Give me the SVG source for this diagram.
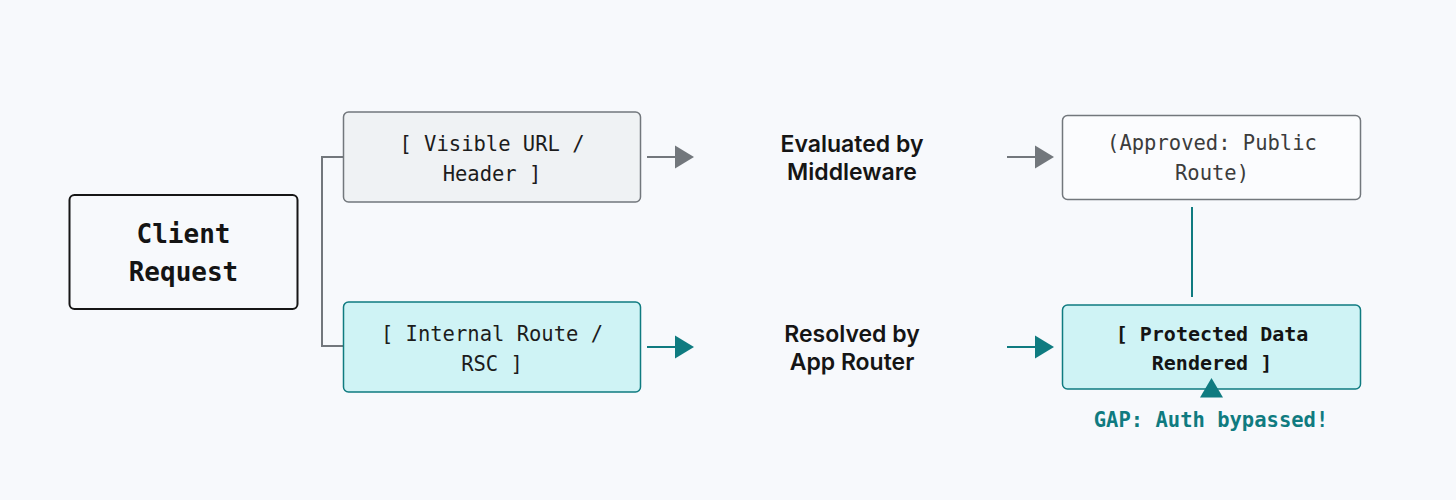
<svg xmlns="http://www.w3.org/2000/svg" width="1456" height="500" viewBox="0 0 1456 500">
  <defs>
    <style>
      .mono { font-family: "DejaVu Sans Mono", "Liberation Mono", monospace; text-anchor: middle; }
      .reg { font-size: 20.5px; font-weight: 400; fill: #1c1c1c; }
      .bold { font-size: 20px; font-weight: 700; fill: #141414; }
      .big { font-size: 26px; font-weight: 700; fill: #141414; }
      .sans { font-family: Inter, "Liberation Sans", sans-serif; font-size: 23px; font-weight: 600; fill: #151515; text-anchor: middle; }
      .gap { font-size: 20.5px; font-weight: 700; fill: #0f7b80; }
      .gray-line { stroke: #72777c; stroke-width: 2; fill: none; }
      .teal-line { stroke: #0f7b80; stroke-width: 2; fill: none; }
      .gray-head { fill: #72777c; }
      .teal-head { fill: #0f7b80; }
    </style>
  </defs>
  <rect x="0" y="0" width="1456" height="500" fill="#f7f9fc"/>

  <g id="connectors">
    <path class="gray-line" d="M343 157 H322 V346 H343"/>
    <line class="gray-line" x1="647" y1="157" x2="676" y2="157"/>
    <polygon class="gray-head" points="675,145.5 694,157 675,168.5"/>
    <line class="gray-line" x1="1007" y1="157" x2="1036" y2="157"/>
    <polygon class="gray-head" points="1035,145.5 1054,157 1035,168.5"/>
    <line class="teal-line" x1="647" y1="347" x2="676" y2="347"/>
    <polygon class="teal-head" points="675,335.5 694,347 675,358.5"/>
    <line class="teal-line" x1="1007" y1="347" x2="1036" y2="347"/>
    <polygon class="teal-head" points="1035,335.5 1054,347 1035,358.5"/>
    <line class="teal-line" x1="1192" y1="207" x2="1192" y2="297"/>
  </g>

  <g id="client-request">
    <rect x="69.5" y="195" width="228" height="114" rx="5" fill="#f7f9fc" stroke="#161616" stroke-width="2"/>
    <text class="mono big" x="183.5" y="243">Client</text>
    <text class="mono big" x="183.5" y="281">Request</text>
  </g>

  <g id="visible-url">
    <rect x="343.5" y="112" width="297" height="90" rx="5" fill="#eff2f4" stroke="#72777c" stroke-width="1.5"/>
    <text class="mono reg" x="492" y="151">[ Visible URL /</text>
    <text class="mono reg" x="492" y="181">Header ]</text>
  </g>

  <g id="internal-route">
    <rect x="343.5" y="302" width="297" height="90" rx="5" fill="#cff3f5" stroke="#0f7b80" stroke-width="1.5"/>
    <text class="mono reg" x="492" y="341">[ Internal Route /</text>
    <text class="mono reg" x="492" y="371">RSC ]</text>
  </g>

  <g id="middleware">
    <text class="sans" x="852" y="152">Evaluated by</text>
    <text class="sans" x="852" y="180">Middleware</text>
  </g>

  <g id="app-router">
    <text class="sans" x="852" y="342">Resolved by</text>
    <text class="sans" x="852" y="370">App Router</text>
  </g>

  <g id="approved">
    <rect x="1062.5" y="115.5" width="298" height="84" rx="5" fill="#fbfcfe" stroke="#72777c" stroke-width="1.5"/>
    <text class="mono reg" x="1212" y="150" style="fill:#3c3c3c">(Approved: Public</text>
    <text class="mono reg" x="1212" y="180" style="fill:#3c3c3c">Route)</text>
  </g>

  <g id="protected">
    <rect x="1062.5" y="305" width="298" height="84" rx="5" fill="#cff3f5" stroke="#0f7b80" stroke-width="1.5"/>
    <text class="mono bold" x="1212" y="341">[ Protected Data</text>
    <text class="mono bold" x="1212" y="370">Rendered ]</text>
  </g>

  <g id="gap">
    <polygon class="teal-head" points="1211.5,378 1223,397.5 1200,397.5"/>
    <text class="mono gap" x="1211" y="427">GAP: Auth bypassed!</text>
  </g>
</svg>
